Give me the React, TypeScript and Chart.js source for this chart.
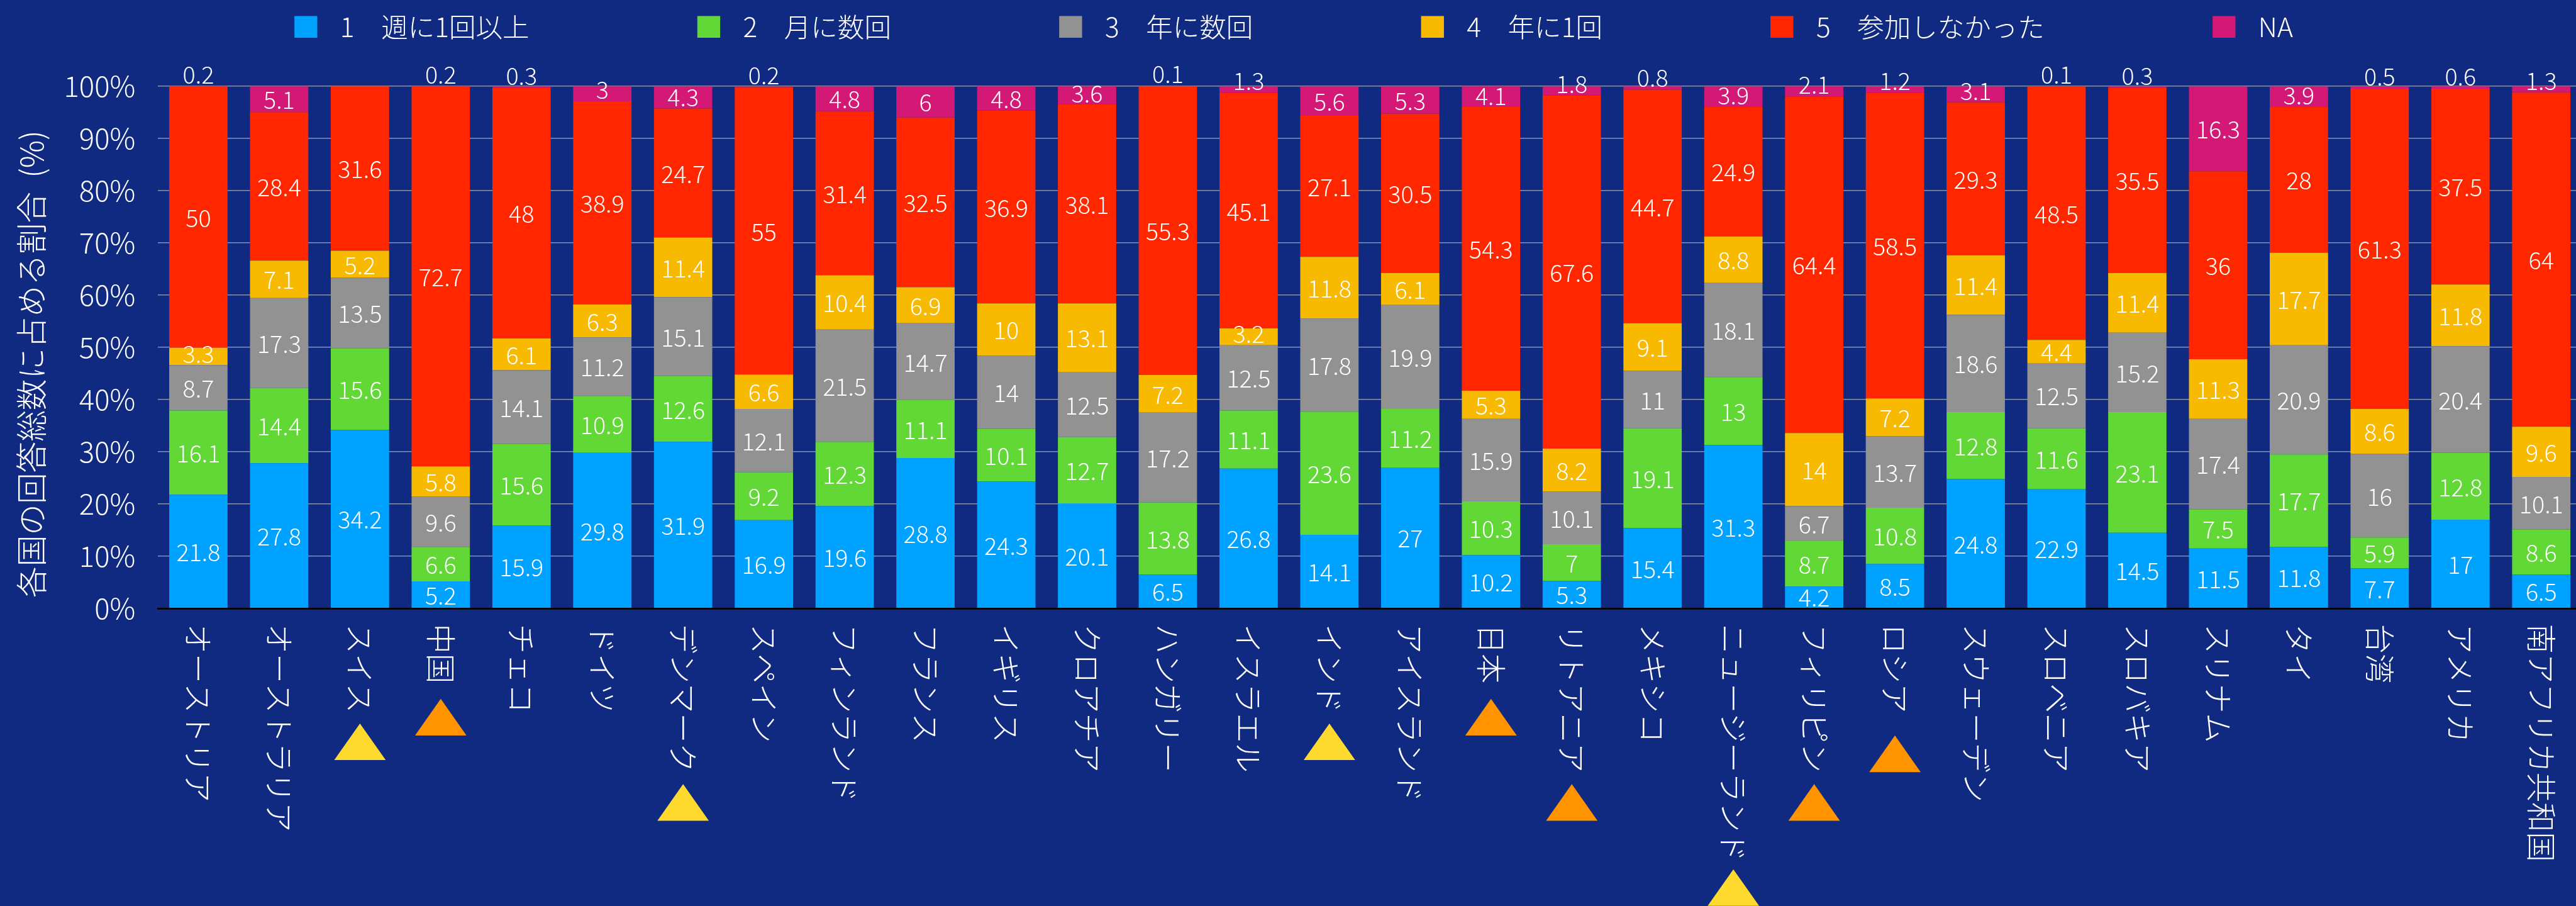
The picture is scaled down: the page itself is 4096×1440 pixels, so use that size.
import React, { useEffect, useRef } from "react";
import { Chart, registerables } from "chart.js";

Chart.register(...registerables);

const countries = [
  "オーストリア", "オーストラリア", "スイス", "中国", "チェコ", "ドイツ", "デンマーク", "スペイン",
  "フィンランド", "フランス", "イギリス", "クロアチア", "ハンガリー", "イスラエル", "インド",
  "アイスランド", "日本", "リトアニア", "メキシコ", "ニュージーランド", "フィリピン", "ロシア",
  "スウェーデン", "スロベニア", "スロバキア", "スリナム", "タイ", "台湾", "アメリカ", "南アフリカ共和国",
];

const weekly = [21.8, 27.8, 34.2, 5.2, 15.9, 29.8, 31.9, 16.9, 19.6, 28.8, 24.3, 20.1, 6.5, 26.8, 14.1, 27, 10.2, 5.3, 15.4, 31.3, 4.2, 8.5, 24.8, 22.9, 14.5, 11.5, 11.8, 7.7, 17, 6.5];
const monthly = [16.1, 14.4, 15.6, 6.6, 15.6, 10.9, 12.6, 9.2, 12.3, 11.1, 10.1, 12.7, 13.8, 11.1, 23.6, 11.2, 10.3, 7, 19.1, 13, 8.7, 10.8, 12.8, 11.6, 23.1, 7.5, 17.7, 5.9, 12.8, 8.6];
const severalYearly = [8.7, 17.3, 13.5, 9.6, 14.1, 11.2, 15.1, 12.1, 21.5, 14.7, 14, 12.5, 17.2, 12.5, 17.8, 19.9, 15.9, 10.1, 11, 18.1, 6.7, 13.7, 18.6, 12.5, 15.2, 17.4, 20.9, 16, 20.4, 10.1];
const oncePerYear = [3.3, 7.1, 5.2, 5.8, 6.1, 6.3, 11.4, 6.6, 10.4, 6.9, 10, 13.1, 7.2, 3.2, 11.8, 6.1, 5.3, 8.2, 9.1, 8.8, 14, 7.2, 11.4, 4.4, 11.4, 11.3, 17.7, 8.6, 11.8, 9.6];
const didNotJoin = [50, 28.4, 31.6, 72.7, 48, 38.9, 24.7, 55, 31.4, 32.5, 36.9, 38.1, 55.3, 45.1, 27.1, 30.5, 54.3, 67.6, 44.7, 24.9, 64.4, 58.5, 29.3, 48.5, 35.5, 36, 28, 61.3, 37.5, 64];
const noAnswer = [0.2, 5.1, null, 0.2, 0.3, 3, 4.3, 0.2, 4.8, 6, 4.8, 3.6, 0.1, 1.3, 5.6, 5.3, 4.1, 1.8, 0.8, 3.9, 2.1, 1.2, 3.1, 0.1, 0.3, 16.3, 3.9, 0.5, 0.6, 1.3];

const seriesNames = ["1　週に1回以上", "2　月に数回", "3　年に数回", "4　年に1回", "5　参加しなかった", "NA"];
const seriesColors = ["#00A2FF", "#61D836", "#929292", "#F8BA00", "#FF2600", "#D31876"];
const seriesValues = [weekly, monthly, severalYearly, oncePerYear, didNotJoin, noAnswer];

const axisTitle = "各国の回答総数に占める割合  (%)";

const yellowMark = "#FFDA2E";
const orangeMark = "#FF9400";
const markedCountries = [
  { name: "スイス", color: yellowMark, top: 1265 },
  { name: "中国", color: orangeMark, top: 1222 },
  { name: "デンマーク", color: yellowMark, top: 1371 },
  { name: "インド", color: yellowMark, top: 1265 },
  { name: "日本", color: orangeMark, top: 1222 },
  { name: "リトアニア", color: orangeMark, top: 1371 },
  { name: "ニュージーランド", color: yellowMark, top: 1520 },
  { name: "フィリピン", color: orangeMark, top: 1371 },
  { name: "ロシア", color: orangeMark, top: 1286 },
];

// Layout constants are in a 4506-wide design space and scaled down to the window.
const S = 4096 / 4506;
const FONT = '"Noto Sans CJK JP", "Noto Sans", sans-serif';
const BG = "#0F2A80";

const overlay = {
  id: "overlay",
  afterDraw(chart: any) {
    const { ctx, scales } = chart;
    const x = scales.x;
    ctx.save();
    ctx.fillStyle = "#FFFFFF";

    // Value labels, centred in their segments; thin segments lift upward.
    ctx.font = `300 ${41.5 * S}px ${FONT}`;
    ctx.textAlign = "center";
    ctx.textBaseline = "middle";
    chart.data.datasets.forEach((ds: any, i: number) => {
      const meta = chart.getDatasetMeta(i);
      ds.data.forEach((v: number | null, j: number) => {
        if (v == null) return;
        const bar = meta.data[j];
        const lift = v < 4.5 ? (22.5 - 5 * v) * S : 0;
        const cy = (bar.y + bar.base) / 2 - lift + 1.5 * S;
        ctx.fillText(String(v), bar.x, cy);
      });
    });

    // Category names run downward below the axis.
    ctx.font = `300 ${52 * S}px ${FONT}`;
    ctx.textAlign = "left";
    countries.forEach((name, j) => {
      ctx.save();
      ctx.translate(x.getPixelForTick(j), 1091 * S);
      ctx.rotate(Math.PI / 2);
      ctx.fillText(name, 0, 0);
      ctx.restore();
    });

    // Triangle marks under selected countries.
    markedCountries.forEach((m) => {
      const cx = x.getPixelForTick(countries.indexOf(m.name));
      ctx.fillStyle = m.color;
      ctx.beginPath();
      ctx.moveTo(cx, m.top * S);
      ctx.lineTo(cx + 45 * S, (m.top + 64) * S);
      ctx.lineTo(cx - 45 * S, (m.top + 64) * S);
      ctx.closePath();
      ctx.fill();
    });

    // Vertical axis title.
    ctx.fillStyle = "#FFFFFF";
    ctx.save();
    ctx.translate(55 * S, 1045 * S);
    ctx.rotate(-Math.PI / 2);
    ctx.font = `300 ${54.6 * S}px ${FONT}`;
    ctx.textAlign = "left";
    ctx.fillText(axisTitle, 0, 0);
    ctx.restore();

    // Legend row: swatch, text, then a constant gap to the next swatch.
    let cursor = 515 * S;
    ctx.font = `300 ${46.8 * S}px ${FONT}`;
    ctx.textAlign = "left";
    chart.data.datasets.forEach((ds: any) => {
      ctx.fillStyle = ds.backgroundColor;
      ctx.fillRect(cursor, 28 * S, 40 * S, 38 * S);
      ctx.fillStyle = "#FFFFFF";
      ctx.fillText(ds.label, cursor + 80 * S, 47 * S);
      cursor += 80 * S + ctx.measureText(ds.label).width + 294 * S;
    });
    ctx.restore();
  },
};

export default function App() {
  const ref = useRef<HTMLCanvasElement>(null);

  useEffect(() => {
    document.body.style.margin = "0";
    document.body.style.background = BG;
    const chart = new Chart(ref.current!, {
      type: "bar",
      data: {
        labels: countries,
        datasets: seriesValues.map((values, i) => ({
          label: seriesNames[i],
          data: values,
          backgroundColor: seriesColors[i],
          borderWidth: 0,
          barPercentage: 0.722,
          categoryPercentage: 1,
        })),
      },
      options: {
        responsive: false,
        animation: false,
        devicePixelRatio: 1,
        layout: { padding: { top: 150.5 * S, bottom: 1440 - 1064 * S, left: 0, right: 0 } },
        plugins: { legend: { display: false }, tooltip: { enabled: false } },
        scales: {
          x: {
            stacked: true,
            grid: { display: false },
            border: { display: true, color: "#000000", width: 3 * S, z: 1 },
            ticks: { display: false },
            afterFit: (s: any) => { s.height = 0; },
          },
          y: {
            stacked: true,
            min: 0,
            max: 100,
            border: { display: false },
            grid: { color: "#8A92AD", lineWidth: 1.6, drawTicks: false },
            ticks: {
              stepSize: 10,
              color: "#FFFFFF",
              padding: 36,
              font: { family: FONT, size: 50 * S, weight: "300" },
              callback: (v: any) => `${v}%`,
            },
            afterFit: (s: any) => { s.width = 276.35 * S; },
          },
        },
      },
      plugins: [overlay],
    } as any);
    return () => chart.destroy();
  }, []);

  return (
    <div style={{ position: "fixed", inset: 0, overflow: "hidden", background: BG }}>
      <canvas ref={ref} width={4105} height={1440} style={{ display: "block" }} />
    </div>
  );
}
